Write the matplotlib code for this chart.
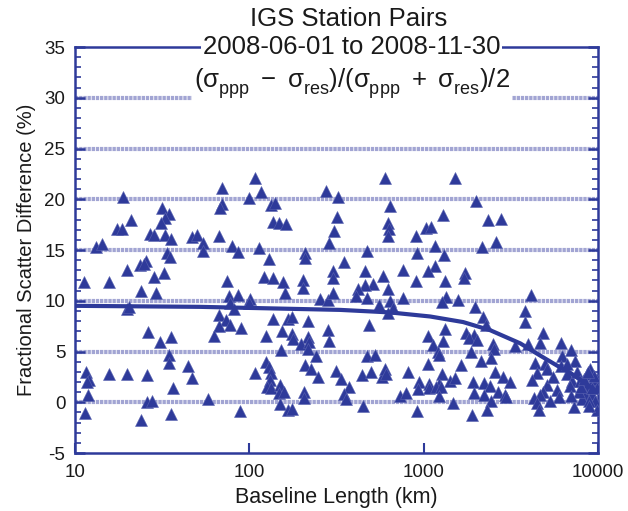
import matplotlib
matplotlib.use('Agg')
import matplotlib.pyplot as plt
from matplotlib.ticker import MultipleLocator, FixedLocator, NullLocator

plt.rcParams['font.family'] = ['Liberation Sans', 'DejaVu Sans']
plt.rcParams['mathtext.fontset'] = 'custom'
plt.rcParams['mathtext.rm'] = 'Liberation Sans'
plt.rcParams['mathtext.it'] = 'Liberation Sans'
plt.rcParams['axes.unicode_minus'] = False
# subscripts sit lower in the original figure
try:
    from matplotlib import _mathtext
    _mathtext.FontConstantsBase.sub1 = 0.5
except Exception:
    pass

# station pair baselines (km) and fractional scatter difference (%)
baseline_km = [
    18.9, 31.6, 34.5, 32.7, 31, 21, 17.4, 18.6, 27, 28.3, 33, 35.7, 13.2, 14.2,
    33.7, 35.3, 25.6, 23.7, 24.8, 19.9, 32.3, 28.3, 11.3, 15.7, 24, 29.2, 19.9,
    20.5, 26.2, 30.6, 35.7, 34.5, 34.5, 11.5, 12.1, 11.7, 15.6, 19.9, 26, 36.4,
    11.8, 25.9, 27.7, 11.4, 24, 35.7,
    108, 69.5, 117, 100, 69.5, 68, 133, 141, 137, 149, 163, 46.8, 50, 54, 54,
    67, 80, 86.6, 114, 129, 75, 122, 136, 156, 160, 76, 86, 101, 77.6, 99, 82,
    67, 74, 77.6, 67.3, 90, 63, 137, 124, 166, 154, 152, 44.7, 46.8, 108, 125,
    129, 133, 131, 127, 134, 150, 149, 158, 58, 88.5, 150, 166,
    604, 275, 324, 640, 318, 627, 634, 627, 305, 286, 208, 208, 476, 350, 303,
    303, 460, 586, 514, 460, 204, 204, 627, 421, 412, 475, 254, 283, 303, 554,
    640, 668, 627, 175, 218, 485, 283, 287, 175, 178, 218, 199, 219, 218, 243,
    475, 525, 210, 225, 248, 316, 335, 441, 499, 574, 604, 612, 372, 350, 361,
    206, 206, 175, 447,
    1524, 2005, 1290, 2340, 2766, 1026, 1097, 908, 1156, 919, 1309, 2168, 2589,
    761, 1156, 1066, 1740, 1702, 908, 1320, 767, 1349, 1275, 1585, 1977, 2188,
    2286, 1320, 1058, 1290, 1130, 1756, 1958, 1834, 2032, 2500, 2531, 1208,
    1230, 1876, 2443, 2142, 1058, 1629, 813, 1279, 2553, 2852, 940, 1081, 1230,
    1409, 1524, 1919, 2208, 2390, 2673, 927, 1081, 1181, 1267, 728, 794, 1219,
    1935, 2218, 2443, 1473, 2317, 915, 1901,
    4150, 3830, 3830, 4875, 4665, 3950, 3360, 6170, 6220, 7010, 4370, 4990,
    7410, 6140, 4470, 5100, 4190, 3140, 6640, 7100, 6930, 7590, 7920, 5100,
    4875, 4665, 4280, 4470, 4620, 2940, 2990, 7260, 8650, 9040, 9440, 8650,
    8470, 9250, 8110, 9660, 9880, 9900, 7760, 6640, 9950, 8950, 8950,
    5500, 5800, 6000, 8000, 8300, 9500, 7000, 5300, 9200, 8800,
]
frac_diff = [
    20.2, 19.1, 18.5, 18.2, 17.7, 18.0, 17.1, 17.1, 16.6, 16.5, 16.5, 16.1, 15.3,
    15.6, 14.7, 14.3, 13.9, 13.5, 13.6, 13.0, 12.7, 12.3, 11.8, 11.8, 11.0, 10.8,
    9.2, 9.4, 6.9, 5.9, 6.4, 4.7, 3.9, 2.96, 2.2, 2.0, 2.8, 2.8, 2.7, 1.4, 0.7,
    0.0, 0.1, -1.1, -1.7, -1.2,
    22.1, 21.1, 20.7, 20.1, 19.5, 19.1, 19.4, 19.6, 17.8, 17.7, 17.6, 16.3, 16.5,
    15.7, 14.9, 16.4, 15.4, 14.8, 15.2, 14.1, 11.9, 12.3, 12.2, 11.8, 10.8, 10.5,
    10.6, 10.2, 9.8, 9.8, 9.2, 8.6, 8.1, 7.6, 7.5, 7.3, 6.5, 8.2, 6.5, 8.2, 7.0,
    5.1, 3.6, 2.4, 2.9, 4.0, 3.5, 2.9, 2.2, 1.5, 1.4, 1.7, 0.9, 1.0, 0.3, -0.9,
    -0.2, -0.75,
    22.1, 20.8, 20.2, 19.3, 18.3, 17.7, 17.1, 16.4, 16.9, 15.7, 14.7, 14.2, 14.9,
    13.8, 12.9, 12.2, 12.9, 12.4, 11.7, 11.6, 12.0, 11.3, 11.2, 11.2, 10.5, 10.3,
    10.2, 10.1, 10.8, 9.6, 10.0, 9.3, 8.8, 8.4, 8.0, 7.6, 7.1, 6.0, 6.7, 6.2,
    6.4, 5.7, 5.9, 5.2, 4.6, 4.6, 4.7, 3.7, 3.3, 2.5, 3.1, 2.3, 2.7, 3.0, 2.5,
    3.3, 2.8, 1.5, 0.8, 0.3, 1.05, 0.4, -0.65, -0.4,
    22.1, 19.8, 18.4, 18.0, 18.1, 17.2, 17.3, 16.4, 15.4, 14.7, 14.5, 15.3, 15.8,
    13.0, 13.4, 12.9, 12.7, 12.2, 11.9, 11.9, 10.3, 10.4, 9.9, 10.1, 9.4, 8.4,
    7.6, 7.2, 6.5, 6.0, 5.6, 6.8, 6.6, 6.3, 6.1, 5.7, 5.2, 5.0, 4.7, 5.0, 4.4,
    4.1, 3.8, 3.7, 3.0, 2.8, 3.0, 2.5, 2.0, 1.8, 1.8, 2.1, 2.4, 2.0, 1.9, 1.6,
    1.05, 1.3, 1.4, 1.5, 1.5, 0.65, 0.9, 0.6, 0.9, 0.7, 0.1, -0.1, -0.75, -0.9,
    -1.25,
    10.6, 9.0, 7.9, 6.8, 5.8, 5.7, 5.5, 5.8, 4.6, 5.1, 3.9, 3.8, 4.1, 3.6, 2.9,
    3.3, 2.2, 2.0, 2.8, 2.1, 1.6, 3.0, 2.1, 1.7, 1.05, 0.7, 0.4, -0.1, -0.75,
    0.7, 0.5, -0.5, 2.8, 3.3, 2.1, 1.6, 0.8, 0.8, 0.3, 0.1, -0.75, 2.3, 1.05,
    3.8, 1.4, 0.1, -0.4,
    2.5, 1.2, 0.5, 1.5, 2.3, 2.6, 0.6, 0.1, 1.4, 3.0,
]

# trend curve
trend_km = [10, 52, 332, 643, 1091, 1687, 2410, 3589, 4667, 5848, 6950, 8240, 10000]
trend_pct = [9.5, 9.4, 9.1, 8.85, 8.45, 7.9, 7.1, 5.8, 4.6, 3.6, 2.9, 2.0, 1.0]

grid_levels = [0, 5, 10, 15, 20, 25, 30]

blue = '#2e3a9a'

fig = plt.figure(figsize=(6.28, 5.11), dpi=100)
ax = fig.add_axes([0.1194, 0.1135, 0.8326, 0.7945])

for g in grid_levels:
    ax.axhline(g, color='#a2a5d3', lw=3, ls=(0, (0.8, 0.2)), zorder=1)

ax.plot(baseline_km, frac_diff, ls='none', marker='^', ms=8.4, color=blue,
        mec='#5a63b0', mew=0.4, zorder=3)
ax.plot(trend_km, trend_pct, color=blue, lw=3, zorder=4)

ax.set_xscale('log')
ax.set_xlim(10, 10000)
ax.set_ylim(-5, 35)
ax.xaxis.set_major_locator(FixedLocator([10, 100, 1000, 10000]))
ax.xaxis.set_minor_locator(NullLocator())
ax.set_xticklabels(['10', '100', '1000', '10000'])
ax.yaxis.set_major_locator(MultipleLocator(5))
ax.yaxis.set_minor_locator(MultipleLocator(1))

for s in ax.spines.values():
    s.set_color(blue)
    s.set_linewidth(1.8)

ax.tick_params(axis='both', which='both', direction='in', color=blue,
               labelsize=13.5, labelcolor='#1a1a1a')
ax.tick_params(axis='y', which='both', right=True)
ax.tick_params(axis='y', which='major', length=7, width=1.8, pad=7)
ax.tick_params(axis='y', which='minor', length=4, width=1.2)
ax.tick_params(axis='x', which='major', length=7, width=1.5, pad=8)

ax.set_xlabel('Baseline Length (km)', fontsize=15.5, color='#1a1a1a', labelpad=4)
ax.set_ylabel('Fractional Scatter Difference (%)', fontsize=14.5, color='#1a1a1a',
              labelpad=6)

box = dict(facecolor='white', edgecolor='none', pad=1.5)
fig.text(0.555, 0.962, 'IGS Station Pairs', ha='center', va='center',
         fontsize=18.5, color='#1a1a1a')
fig.text(0.56, 0.908, '2008-06-01 to 2008-11-30', ha='center', va='center',
         fontsize=18.5, color='#1a1a1a', bbox=box)
fig.text(0.56, 0.836,
         r'$(\sigma_{\mathrm{ppp}}\ -\ \sigma_{\mathrm{res}})/(\sigma_{\mathrm{ppp}}\ +\ \sigma_{\mathrm{res}})/2$',
         ha='center', va='center', fontsize=18.5, color='#1a1a1a', bbox=box)

fig.savefig('out.png', dpi=100)
